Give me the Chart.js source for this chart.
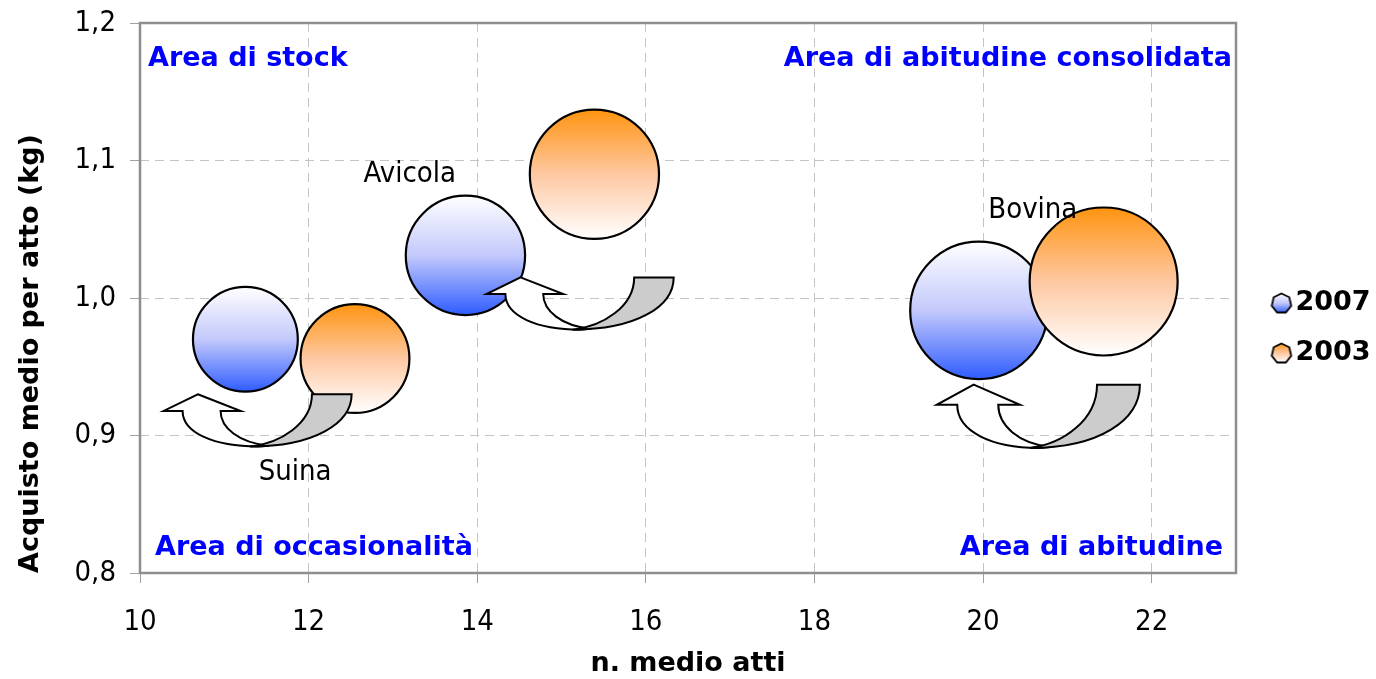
<!DOCTYPE html>
<html lang="it">
<head>
<meta charset="utf-8">
<title>Carni: atti di acquisto e acquisto medio per atto</title>
<script src="https://cdn.jsdelivr.net/npm/chart.js@4.4.1/dist/chart.umd.min.js"></script>
<style>
  html, body { margin: 0; padding: 0; background: #ffffff; }
  #wrap { width: 1376px; height: 679px; position: relative; }
</style>
</head>
<body>
<div id="wrap"><canvas id="chart"></canvas></div>
<script>
// ---- data ----
const categories = ['Suina', 'Avicola', 'Bovina'];
const seriesNames = ['2007', '2003'];
// n. medio atti (x) and acquisto medio per atto in kg (y)
const atti2007 = [11.25, 13.86, 19.95];
const kg2007   = [0.970, 1.031, 0.991];
const atti2003 = [12.55, 15.39, 21.43];
const kg2003   = [0.956, 1.090, 1.012];
// relative bubble size (index, Bovina 2003 = 100)
const size2007 = [50.2, 65.0, 86.1];
const size2003 = [54.1, 76.2, 100];
const xTickLabels = ['10', '12', '14', '16', '18', '20', '22'];
const yTickLabels = ['0,8', '0,9', '1,0', '1,1', '1,2'];
const areaLabels = ['Area di stock', 'Area di abitudine consolidata', 'Area di occasionalità', 'Area di abitudine'];

// ---- styling ----
const R_MAX = 74;
const COND = '"DejaVu Sans Condensed", "DejaVu Sans", sans-serif';
const BOLD = '"DejaVu Sans", Verdana, sans-serif';
const BLUE_STOPS = [[0, '#ffffff'], [0.5, '#c3c9fb'], [1, '#2f5cff']];
const ORANGE_STOPS = [[0, '#ff9410'], [0.5, '#fec8a2'], [1, '#ffffff']];

function toBubbles(xs, ys, sizes) {
  return xs.map((x, i) => ({ x: x, y: ys[i], r: R_MAX * Math.sqrt(sizes[i] / 100) }));
}

function gradientFill(stops) {
  return (ctx) => {
    if (ctx.type !== 'data') return stops[1][1];
    const chart = ctx.chart;
    const ys = chart.scales.y;
    if (!ys || !chart.chartArea) return stops[1][1];
    const py = ys.getPixelForValue(ctx.raw.y);
    const r = ctx.raw.r;
    const g = chart.ctx.createLinearGradient(0, py - r, 0, py + r);
    stops.forEach(([o, c]) => g.addColorStop(o, c));
    return g;
  };
}

// small polygon icons for the legend
function legendIcon(stops) {
  const c = document.createElement('canvas');
  c.width = 24; c.height = 24;
  const g = c.getContext('2d');
  const grad = g.createLinearGradient(0, 2, 0, 22);
  stops.forEach(([o, col]) => grad.addColorStop(o, col));
  g.beginPath();
  const n = 7;
  for (let k = 0; k < n; k++) {
    const a = -Math.PI / 2 + k * 2 * Math.PI / n;
    const px = 12 + 10 * Math.cos(a), py = 12.5 + 10 * Math.sin(a);
    if (k === 0) g.moveTo(px, py); else g.lineTo(px, py);
  }
  g.closePath();
  g.fillStyle = grad;
  g.fill();
  g.lineWidth = 1.8;
  g.strokeStyle = '#000';
  g.stroke();
  return c;
}
const icons = [legendIcon(BLUE_STOPS), legendIcon(ORANGE_STOPS)];

// curved "U-turn" arrow from the 2003 bubble back to the 2007 bubble
function drawUArrow(ctx, L, R, T, B) {
  const W = R - L, H = B - T;
  const P = (u, v) => [L + u * W, T + v * H];
  ctx.save();
  ctx.lineWidth = 2;
  ctx.strokeStyle = '#000';
  ctx.lineJoin = 'miter';
  // white half with the head
  ctx.beginPath();
  ctx.moveTo(...P(0.182, 0));
  ctx.lineTo(...P(0.41, 0.32));
  ctx.lineTo(...P(0.303, 0.32));
  ctx.bezierCurveTo(...P(0.303, 0.64), ...P(0.40, 0.93), ...P(0.56, 0.985));
  ctx.lineTo(...P(0.50, 1.0));
  ctx.bezierCurveTo(...P(0.27, 1.0), ...P(0.101, 0.74), ...P(0.101, 0.32));
  ctx.lineTo(...P(0, 0.32));
  ctx.closePath();
  ctx.fillStyle = '#ffffff';
  ctx.fill();
  ctx.stroke();
  // grey tail
  ctx.beginPath();
  ctx.moveTo(...P(0.789, 0));
  ctx.lineTo(...P(1, 0));
  ctx.bezierCurveTo(...P(1, 0.56), ...P(0.80, 1.0), ...P(0.46, 1.0));
  ctx.bezierCurveTo(...P(0.62, 0.94), ...P(0.789, 0.56), ...P(0.789, 0));
  ctx.closePath();
  ctx.fillStyle = '#cccccc';
  ctx.fill();
  ctx.stroke();
  ctx.restore();
}

const decorations = {
  id: 'decorations',
  afterInit(chart) {
    const lg = chart.legend;
    if (lg) {
      const fit = lg.fit;
      lg.fit = function () { fit.call(this); this.width = 140; };
    }
  },
  afterLayout(chart, args, opts) {
    const lg = chart.legend;
    if (lg) {
      lg.left += opts.legendShift[0]; lg.right += opts.legendShift[0];
      lg.top += opts.legendShift[1]; lg.bottom += opts.legendShift[1];
    }
  },
  beforeDatasetsDraw(chart, args, opts) {
    const { ctx, chartArea: a } = chart;
    ctx.save();
    // plot frame
    ctx.strokeStyle = '#8e8e8e';
    ctx.lineWidth = 2.5;
    ctx.strokeRect(a.left, a.top, a.right - a.left, a.bottom - a.top);
    // quadrant captions
    ctx.fillStyle = '#0000ff';
    ctx.font = 'bold 27px ' + BOLD;
    ctx.textBaseline = 'alphabetic';
    opts.areas.forEach((ar) => {
      ctx.textAlign = ar.align;
      const x = ar.align === 'left' ? a.left + ar.dx : a.right - ar.dx;
      const y = ar.top ? a.top + ar.dy : a.bottom - ar.dy;
      if (ar.maxWidth) ctx.fillText(areaLabels[ar.i], x, y, ar.maxWidth);
      else ctx.fillText(areaLabels[ar.i], x, y);
    });
    ctx.restore();
  },
  afterDatasetsDraw(chart, args, opts) {
    const { ctx, scales: { x, y } } = chart;
    opts.arrows.forEach((ar) => {
      drawUArrow(ctx, x.getPixelForValue(ar.x0), x.getPixelForValue(ar.x1),
        y.getPixelForValue(ar.yTop), y.getPixelForValue(ar.yBottom));
    });
    ctx.save();
    ctx.fillStyle = '#000';
    ctx.font = '29px ' + COND;
    ctx.textAlign = 'center';
    ctx.textBaseline = 'middle';
    opts.names.forEach((n) => {
      ctx.fillText(categories[n.i], x.getPixelForValue(n.x), y.getPixelForValue(n.y));
    });
    ctx.restore();
  }
};

new Chart(document.getElementById('chart'), {
  type: 'bubble',
  data: {
    datasets: [
      {
        label: seriesNames[0],
        data: toBubbles(atti2007, kg2007, size2007),
        backgroundColor: gradientFill(BLUE_STOPS),
        borderColor: '#000',
        borderWidth: 2.2,
        hoverBorderWidth: 2.2,
        order: 1
      },
      {
        label: seriesNames[1],
        data: toBubbles(atti2003, kg2003, size2003),
        backgroundColor: gradientFill(ORANGE_STOPS),
        borderColor: '#000',
        borderWidth: 2.2,
        hoverBorderWidth: 2.2,
        order: 0
      }
    ]
  },
  options: {
    responsive: true,
    maintainAspectRatio: false,
    animation: false,
    devicePixelRatio: 1,
    layout: { autoPadding: false, padding: { top: 23, left: 0, right: 0, bottom: 0 } },
    scales: {
      x: {
        type: 'linear',
        min: 10, max: 23,
        ticks: {
          stepSize: 2,
          includeBounds: false,
          autoSkip: false,
          maxRotation: 0,
          padding: 22,
          color: '#000',
          font: { family: COND, size: 29 },
          callback: (v, i) => xTickLabels[i]
        },
        grid: { color: '#c4c4c4', lineWidth: 1, tickColor: '#a0a0a0', tickLength: 10 },
        border: { display: false, dash: [9, 6] },
        title: {
          display: true,
          text: 'n. medio atti',
          color: '#000',
          font: { family: BOLD, weight: 'bold', size: 27, lineHeight: 1 },
          padding: { top: 0, bottom: 2 }
        },
        afterFit: (s) => { s.height = 106; s.paddingLeft = 0; s.paddingRight = 0; }
      },
      y: {
        type: 'linear',
        min: 0.8, max: 1.2,
        ticks: {
          stepSize: 0.1,
          padding: 14,
          color: '#000',
          font: { family: COND, size: 29 },
          callback: (v, i) => yTickLabels[i]
        },
        grid: { color: '#c4c4c4', lineWidth: 1, tickColor: '#a0a0a0', tickLength: 10 },
        border: { display: false, dash: [9, 6] },
        title: {
          display: true,
          text: 'Acquisto medio per atto (kg)',
          align: 'start',
          color: '#000',
          font: { family: BOLD, weight: 'bold', size: 27, lineHeight: 1.2 },
          padding: { top: 15, bottom: 0 }
        },
        afterFit: (s) => { s.width = 140; s.paddingTop = 0; s.paddingBottom = 0; }
      }
    },
    plugins: {
      tooltip: { enabled: false },
      legend: {
        position: 'right',
        align: 'center',
        labels: {
          usePointStyle: true,
          boxWidth: 1,
          padding: 23,
          color: '#000',
          font: { family: BOLD, weight: 'bold', size: 27 },
          sort: (a, b) => a.datasetIndex - b.datasetIndex,
          generateLabels: (chart) => {
            const items = Chart.defaults.plugins.legend.labels.generateLabels(chart);
            items.forEach((it) => { it.pointStyle = icons[it.datasetIndex]; });
            return items;
          }
        }
      },
      decorations: {
        legendShift: [22, -23],
        areas: [
          { i: 0, align: 'left', top: true, dx: 8, dy: 43 },
          { i: 1, align: 'right', top: true, dx: 4, dy: 43 },
          { i: 2, align: 'left', top: false, dx: 15, dy: 18, maxWidth: 322 },
          { i: 3, align: 'right', top: false, dx: 13, dy: 18 }
        ],
        arrows: [
          { x0: 10.28, x1: 12.51, yTop: 0.930, yBottom: 0.892 },
          { x0: 14.11, x1: 16.33, yTop: 1.015, yBottom: 0.977 },
          { x0: 19.45, x1: 21.86, yTop: 0.937, yBottom: 0.891 }
        ],
        names: [
          { i: 0, x: 11.84, y: 0.873 },
          { i: 1, x: 13.20, y: 1.090 },
          { i: 2, x: 20.59, y: 1.064 }
        ]
      }
    }
  },
  plugins: [decorations]
});
</script>
</body>
</html>
